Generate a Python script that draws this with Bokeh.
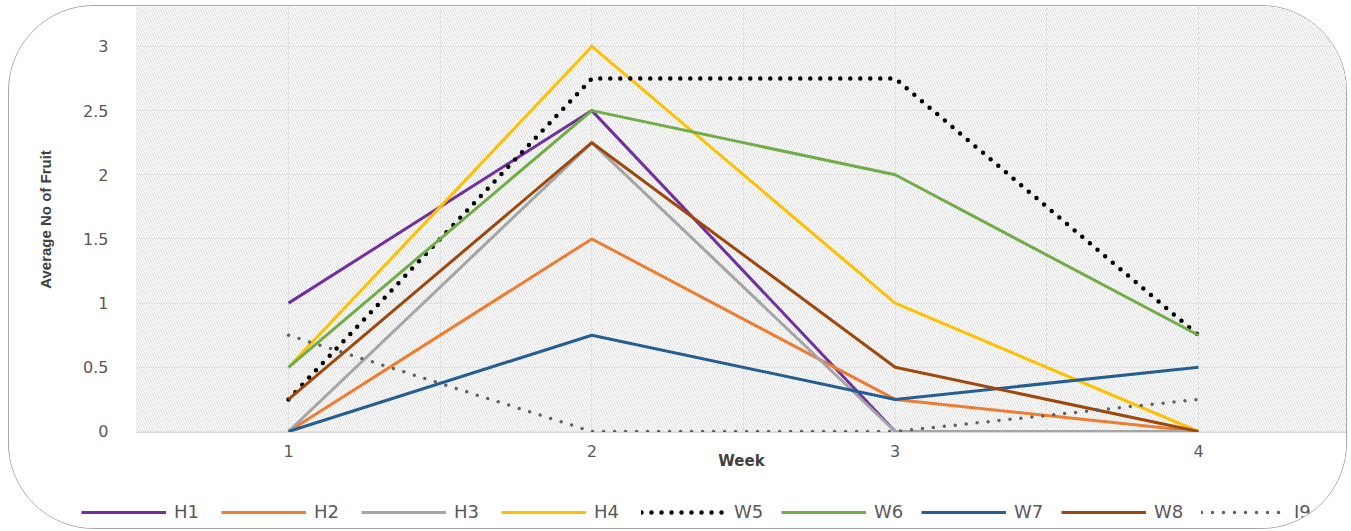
from bokeh.plotting import figure
from bokeh.layouts import column
from bokeh.models import (BoxAnnotation, FixedTicker, Legend, LegendItem, Range1d)
from bokeh.embed import file_html
from bokeh.resources import INLINE

# ---- data ----
weeks = [1, 2, 3, 4]
series_names = ["H1", "H2", "H3", "H4", "W5", "W6", "W7", "W8", "I9"]
H1 = [1.0, 2.5, 0.0, 0.0]
H2 = [0.0, 1.5, 0.25, 0.0]
H3 = [0.0, 2.25, 0.0, 0.0]
H4 = [0.5, 3.0, 1.0, 0.0]
W5 = [0.25, 2.75, 2.75, 0.75]
W6 = [0.5, 2.5, 2.0, 0.75]
W7 = [0.0, 0.75, 0.25, 0.5]
W8 = [0.25, 2.25, 0.5, 0.0]
I9 = [0.75, 0.0, 0.0, 0.25]
y_ticks = [0, 0.5, 1, 1.5, 2, 2.5, 3]
y_tick_labels = ["0", "0.5", "1", "1.5", "2", "2.5", "3"]
x_ticks = [1, 2, 3, 4]
x_tick_labels = ["1", "2", "3", "4"]

values = [H1, H2, H3, H4, W5, W6, W7, W8, I9]
colors = ["#7030A0", "#ED7D31", "#A5A5A5", "#FFC000", "#000000",
          "#70AD47", "#255E91", "#9E480E", "#5f5f5f"]
dashes = ["solid", "solid", "solid", "solid", "0 10",
          "solid", "solid", "solid", "0 11"]
widths = [3, 3, 3, 3, 4.5, 3, 3, 3, 3.5]

W = 1337
LEG_H = 36
p = figure(width=W, height=522 - LEG_H, output_backend="svg", toolbar_location=None,
           x_range=Range1d(0.4989, 4.488), y_range=Range1d(-0.0078, 3.311),
           min_border_left=127, min_border_right=0, min_border_top=0,
           min_border_bottom=60)
p.outline_line_color = None
p.background_fill_color = "white"
p.border_fill_color = "white"

bg = BoxAnnotation(fill_color="white", fill_alpha=1.0, line_color=None,
                   hatch_pattern="\\", hatch_color="#d9d9d9", hatch_scale=5,
                   hatch_weight=1, level="image")
p.add_layout(bg)

p.xgrid.ticker = FixedTicker(ticks=[0.5, 1, 1.5, 2, 2.5, 3, 3.5, 4, 4.5])
p.ygrid.ticker = FixedTicker(ticks=y_ticks)
for g in (p.xgrid, p.ygrid):
    g.grid_line_color = "#e2e2e2"
    g.grid_line_width = 1

# axes
p.xaxis.ticker = FixedTicker(ticks=x_ticks)
p.xaxis.major_label_overrides = {t: l for t, l in zip(x_ticks, x_tick_labels)}
p.yaxis.ticker = FixedTicker(ticks=y_ticks)
p.yaxis.major_label_overrides = {t: l for t, l in zip(y_ticks, y_tick_labels)}
for ax in (p.xaxis, p.yaxis):
    ax.major_tick_line_color = None
    ax.minor_tick_line_color = None
    ax.major_label_text_font = "DejaVu Sans"
    ax.major_label_text_font_size = "16px"
    ax.major_label_text_color = "#595959"
p.yaxis.axis_line_color = None
p.xaxis.axis_line_color = "#d9d9d9"
p.xaxis.major_label_standoff = 6
p.yaxis.major_label_standoff = 22

p.xaxis.axis_label = "Week"
p.xaxis.axis_label_text_font = "DejaVu Sans"
p.xaxis.axis_label_text_font_style = "bold"
p.xaxis.axis_label_text_font_size = "15px"
p.xaxis.axis_label_text_color = "#404040"
p.xaxis.axis_label_standoff = -8

p.yaxis.axis_label = "Average No of Fruit"
p.yaxis.axis_label_text_font = "Liberation Sans"
p.yaxis.axis_label_text_font_style = "bold"
p.yaxis.axis_label_text_font_size = "15px"
p.yaxis.axis_label_text_color = "#404040"
p.yaxis.axis_label_standoff = 26

for vals, c, d, w in zip(values, colors, dashes, widths):
    p.line(weeks, vals, line_color=c, line_width=w, line_dash=d,
           line_cap="round" if d != "solid" else "butt", line_join="round")

# legend strip (separate figure so the legend is not clipped);
# its proxy lines use the same data but lie outside this strip's ranges
p2 = figure(width=W, height=LEG_H, output_backend="svg", toolbar_location=None,
            x_range=Range1d(100, 101), y_range=Range1d(100, 101),
            x_axis_location=None, y_axis_location=None,
            min_border_left=0, min_border_right=0, min_border_top=0,
            min_border_bottom=0)
for fig in (p, p2):
    if "frame_align" in type(fig).properties():
        fig.frame_align = False
p2.grid.visible = False
p2.outline_line_color = None
p2.background_fill_color = "white"
p2.border_fill_color = "white"
items = []
for name, vals, c, d, w in zip(series_names, values, colors, dashes, widths):
    r = p2.line(weeks, vals, line_color=c, line_width=w, line_dash=d,
                line_cap="round" if d != "solid" else "butt")
    items.append(LegendItem(label=name, renderers=[r]))
legend = Legend(items=items, orientation="horizontal", location=(72, 6),
                glyph_width=85, glyph_height=20, label_standoff=8, spacing=16,
                label_width=31, padding=0, margin=0, border_line_color=None,
                background_fill_alpha=0, label_text_font="DejaVu Sans",
                label_text_font_size="18px", label_text_color="#595959")
p2.add_layout(legend)

lay = column(p, p2, spacing=0)
lay.margin = (5, 0, 0, 8)
lay.styles = {"border": "1.5px solid #a6a6a6", "border-radius": "86px",
              "overflow": "hidden", "background-color": "white"}

open("out.html", "w").write(file_html(lay, INLINE))
